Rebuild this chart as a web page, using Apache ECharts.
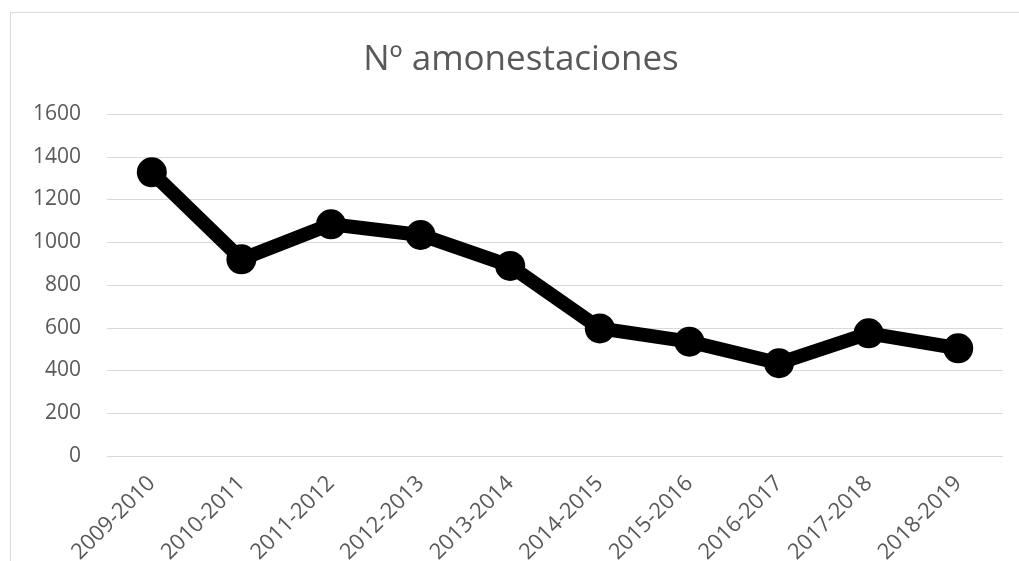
<!DOCTYPE html>
<html>
<head>
<meta charset="utf-8">
<script src="https://cdn.jsdelivr.net/npm/echarts@6/dist/echarts.min.js"></script>
<style>
  html, body { margin: 0; padding: 0; background: #fff; }
  #chart { width: 1019px; height: 561px; }
</style>
</head>
<body>
<div id="chart"></div>
<script>
// temporadas y número de amonestaciones
var temporadas = ['2009-2010', '2010-2011', '2011-2012', '2012-2013', '2013-2014',
                  '2014-2015', '2015-2016', '2016-2017', '2017-2018', '2018-2019'];
var amonestaciones = [1327, 920, 1084, 1034, 889, 597, 535, 434, 574, 504];
var yTicks = [0, 200, 400, 600, 800, 1000, 1200, 1400, 1600];
var titulo = 'Nº amonestaciones';

var chart = echarts.init(document.getElementById('chart'));
var gris = '#595959';

chart.setOption({
    animation: false,
    graphic: [{
        type: 'rect',
        shape: { x: 10.5, y: 12.5, width: 1020, height: 560 },
        style: { fill: 'none', stroke: '#d9d9d9', lineWidth: 1 },
        silent: true
    }, {
        type: 'text',
        x: 521, y: 60,
        style: {
            text: titulo, align: 'center', verticalAlign: 'middle',
            fontFamily: 'Open Sans', fontSize: 35, fill: gris
        },
        silent: true
    }],
    grid: { left: 107, right: 16, top: 114, bottom: 105, containLabel: false, outerBoundsMode: 'none' },
    xAxis: {
        type: 'category',
        data: temporadas,
        axisLine: { show: false },
        axisTick: { show: false },
        axisLabel: {
            rotate: 45, margin: 24, color: gris,
            fontFamily: 'Open Sans', fontSize: 22
        }
    },
    yAxis: {
        type: 'value',
        min: yTicks[0],
        max: yTicks[yTicks.length - 1],
        interval: 200,
        axisLabel: {
            color: gris, fontFamily: 'Open Sans', fontSize: 21, margin: 26,
            formatter: function (v) { return String(v); }
        },
        splitLine: { lineStyle: { color: '#d9d9d9', width: 1 } }
    },
    series: [{
        name: titulo,
        type: 'line',
        data: amonestaciones,
        lineStyle: { color: '#000', width: 14 },
        itemStyle: { color: '#000' },
        symbol: 'circle',
        symbolSize: 30
    }]
});
</script>
</body>
</html>
